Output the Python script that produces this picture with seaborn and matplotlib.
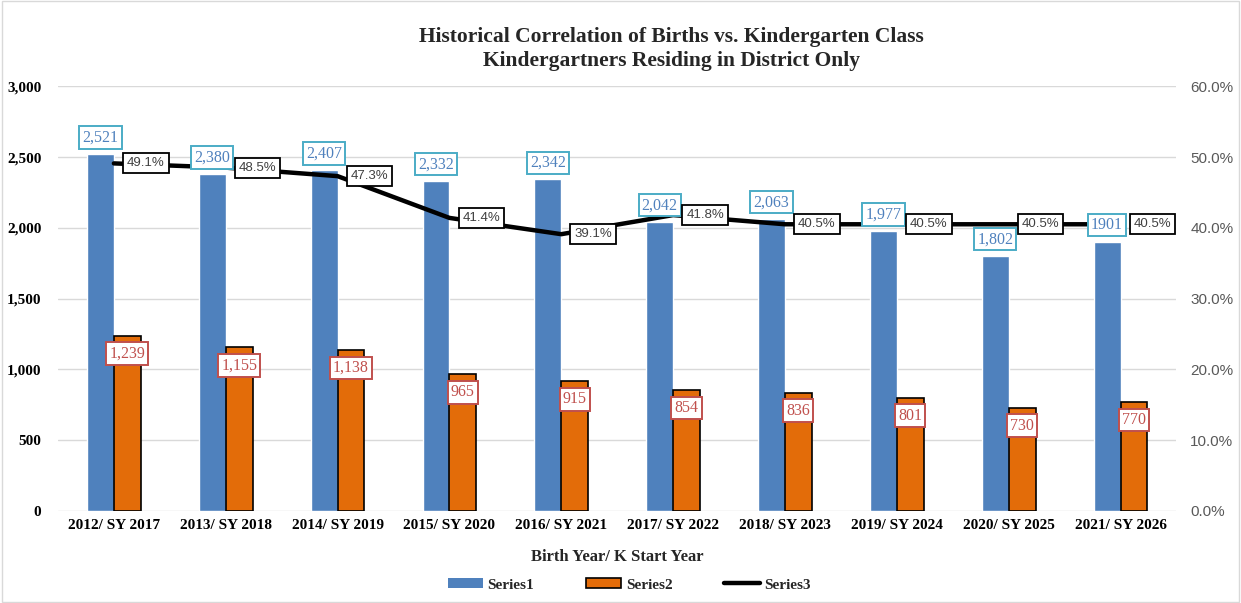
import numpy as np
import pandas as pd
import matplotlib
matplotlib.use('Agg')
import matplotlib.pyplot as plt
import seaborn as sns
from matplotlib.patches import Patch, Rectangle
from matplotlib.lines import Line2D

# chart data
categories = ['2012/ SY 2017', '2013/ SY 2018', '2014/ SY 2019', '2015/ SY 2020', '2016/ SY 2021',
              '2017/ SY 2022', '2018/ SY 2023', '2019/ SY 2024', '2020/ SY 2025', '2021/ SY 2026']
births = [2521, 2380, 2407, 2332, 2342, 2042, 2063, 1977, 1802, 1901]
births_labels = ['2,521', '2,380', '2,407', '2,332', '2,342', '2,042', '2,063', '1,977', '1,802', '1901']
kinder = [1239, 1155, 1138, 965, 915, 854, 836, 801, 730, 770]
ratio = [49.1, 48.5, 47.3, 41.4, 39.1, 41.8, 40.5, 40.5, 40.5, 40.5]

BLUE = '#4F81BD'
ORANGE = '#E36C09'
SERIF = 'Liberation Serif'
SANS = 'Liberation Sans'

sns.set_theme(style='white')
plt.rcParams['font.family'] = [SERIF, 'DejaVu Serif']

df = pd.DataFrame({
    'category': categories * 2,
    'value': births + kinder,
    'series': ['Series1'] * len(births) + ['Series2'] * len(kinder),
})

fig = plt.figure(figsize=(12.41, 6.03), dpi=100)
ax = fig.add_axes([0.0467, 0.1526, 0.9013, 0.7044])

sns.barplot(data=df, x='category', y='value', hue='series', palette=[BLUE, ORANGE],
            width=0.48, ax=ax, legend=False, errorbar=None, saturation=1)

# black outline on the orange bars only
for bar in ax.containers[1]:
    bar.set_edgecolor('black')
    bar.set_linewidth(1.2)

ax.set_ylim(0, 3000)
ax.set_yticks(np.arange(0, 3001, 500))
ax.set_yticklabels([f'{v:,}' for v in range(0, 3001, 500)], fontsize=11, color='black',
                   fontweight='bold')
ax.set_xlim(-0.5, len(categories) - 0.5)
for t in ax.get_xticklabels():
    t.set_fontweight('bold')
ax.tick_params(axis='x', labelsize=11, colors='black', pad=6, length=0)
ax.tick_params(axis='y', length=0, pad=12)
ax.yaxis.grid(True, color='#D9D9D9', linewidth=1)
ax.set_axisbelow(True)
for s in ax.spines.values():
    s.set_visible(False)
ax.set_ylabel('')
ax.set_xlabel('Birth Year/ K Start Year', fontsize=12, fontweight='bold', labelpad=12)

# ratio line on secondary axis
ax2 = ax.twinx()
sns.lineplot(x=np.arange(len(categories)), y=ratio, color='black', linewidth=3.2, ax=ax2)
ax2.set_ylim(0, 60)
ax2.set_yticks(np.arange(0, 61, 10))
ax2.set_yticklabels([f'{v:.1f}%' for v in range(0, 61, 10)], fontsize=11, color='#595959',
                    family=SANS)
ax2.tick_params(axis='y', length=0, pad=10)
ax2.grid(False)
for s in ax2.spines.values():
    s.set_visible(False)

# bar labels (drawn on ax2 so they sit above the line)
for bar, lab in zip(ax.containers[0], births_labels):
    x = bar.get_x() + bar.get_width() / 2
    ax2.annotate(lab, (x, bar.get_height()), xycoords=ax.transData, xytext=(0, 12),
                 textcoords='offset points', ha='center', va='center', fontsize=11.5, color=BLUE,
                 bbox=dict(boxstyle='square,pad=0.2', fc='white', ec='#4BACC6', lw=1.4))
for bar, v in zip(ax.containers[1], kinder):
    x = bar.get_x() + bar.get_width() / 2
    ax.annotate(f'{v:,}', (x, bar.get_height()), xytext=(0, -13), textcoords='offset points',
                ha='center', va='center', fontsize=11.5, color='#C0504D',
                bbox=dict(boxstyle='square,pad=0.2', fc='white', ec='#C0504D', lw=1.4))

for i, v in enumerate(ratio):
    ax2.annotate(f'{v:.1f}%', (i, v), xytext=(23, 0), textcoords='offset points',
                 ha='center', va='center', fontsize=9.5, color='#404040', family=SANS,
                 bbox=dict(boxstyle='square,pad=0.3', fc='white', ec='black', lw=1.3))

fig.suptitle('Historical Correlation of Births vs. Kindergarten Class\nKindergartners Residing in District Only',
             x=0.541, y=0.955, fontsize=15.5, fontweight='bold', linespacing=1.25)

handles = [Patch(facecolor=BLUE, edgecolor='none'),
           Patch(facecolor=ORANGE, edgecolor='black', linewidth=1.2),
           Line2D([0], [0], color='black', linewidth=3.2)]
leg = fig.legend(handles, ['Series1', 'Series2', 'Series3'], loc='center', bbox_to_anchor=(0.507, 0.03),
                 ncol=3, frameon=False, fontsize=11, columnspacing=3.4, handlelength=2.3,
                 handleheight=0.6, handletextpad=0.3)
for t in leg.get_texts():
    t.set_fontweight('bold')

fig.patches.append(Rectangle((0.002, 0.002), 0.996, 0.996, transform=fig.transFigure,
                             fill=False, edgecolor='#D9D9D9', linewidth=1))

fig.savefig('out.png', dpi=100)
